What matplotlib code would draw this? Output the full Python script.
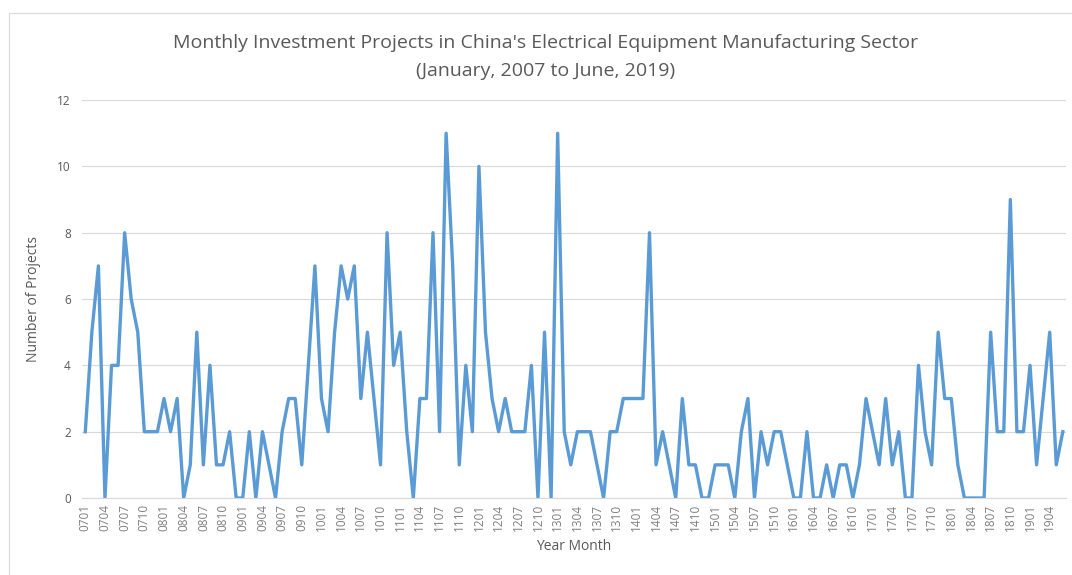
import numpy as np
import matplotlib.pyplot as plt
from matplotlib.patches import Rectangle

plt.rcParams['font.family'] = ['Open Sans', 'DejaVu Sans']

# monthly counts, January 2007 .. June 2019
y2007 = [2, 5, 7, 0, 4, 4, 8, 6, 5, 2, 2, 2]
y2008 = [3, 2, 3, 0, 1, 5, 1, 4, 1, 1, 2, 0]
y2009 = [0, 2, 0, 2, 1, 0, 2, 3, 3, 1, 4, 7]
y2010 = [3, 2, 5, 7, 6, 7, 3, 5, 3, 1, 8, 4]
y2011 = [5, 2, 0, 3, 3, 8, 2, 11, 7, 1, 4, 2]
y2012 = [10, 5, 3, 2, 3, 2, 2, 2, 4, 0, 5, 0]
y2013 = [11, 2, 1, 2, 2, 2, 1, 0, 2, 2, 3, 3]
y2014 = [3, 3, 8, 1, 2, 1, 0, 3, 1, 1, 0, 0]
y2015 = [1, 1, 1, 0, 2, 3, 0, 2, 1, 2, 2, 1]
y2016 = [0, 0, 2, 0, 0, 1, 0, 1, 1, 0, 1, 3]
y2017 = [2, 1, 3, 1, 2, 0, 0, 4, 2, 1, 5, 3]
y2018 = [3, 1, 0, 0, 0, 0, 5, 2, 2, 9, 2, 2]
y2019 = [4, 1, 3, 5, 1, 2]

counts = (y2007 + y2008 + y2009 + y2010 + y2011 + y2012 + y2013
          + y2014 + y2015 + y2016 + y2017 + y2018 + y2019)
years = list(range(2007, 2020))
months = [f"{y % 100:02d}{m:02d}" for y in years for m in range(1, 13)][:len(counts)]

grey = "#595959"
fig = plt.figure(figsize=(10.72, 5.75), dpi=100)

# chart-area border (only the top and left edges fall inside the picture)
fig.patches.append(Rectangle((9 / 1072, -0.05), 1.1, 1 - 13 / 575 + 0.05,
                             transform=fig.transFigure, fill=False,
                             edgecolor="#D9D9D9", linewidth=0.8))

ax = fig.add_axes([0.0765, 0.1339, 0.918, 0.692])

x = np.arange(len(counts))
ax.plot(x, counts, color="#5B9BD5", linewidth=2.4, solid_joinstyle="round")

ax.set_xlim(-0.5, len(counts) - 0.5)
ax.set_ylim(0, 12)
ax.set_yticks(range(0, 13, 2))
ax.set_xticks(x[::3])
ax.set_xticklabels(months[::3], rotation=90, fontsize=8.5, color="#7F7F7F")
ax.tick_params(axis="y", labelsize=8.5, labelcolor=grey, length=0, pad=8)
ax.tick_params(axis="x", length=0, pad=4)

ax.grid(axis="y", color="#D9D9D9", linewidth=0.8)
ax.set_axisbelow(True)
for s in ["top", "right", "left"]:
    ax.spines[s].set_visible(False)
ax.spines["bottom"].set_color("#D9D9D9")

ax.set_ylabel("Number of Projects", fontsize=10, color=grey, labelpad=12)
ax.set_xlabel("Year Month", fontsize=10, color=grey, labelpad=6)

fig.text(0.509, 0.925, "Monthly Investment Projects in China's Electrical Equipment Manufacturing Sector",
         ha="center", va="center", fontsize=14, color=grey)
fig.text(0.509, 0.877, "(January, 2007 to June, 2019)",
         ha="center", va="center", fontsize=14, color=grey)

fig.savefig("out.png", dpi=100)
